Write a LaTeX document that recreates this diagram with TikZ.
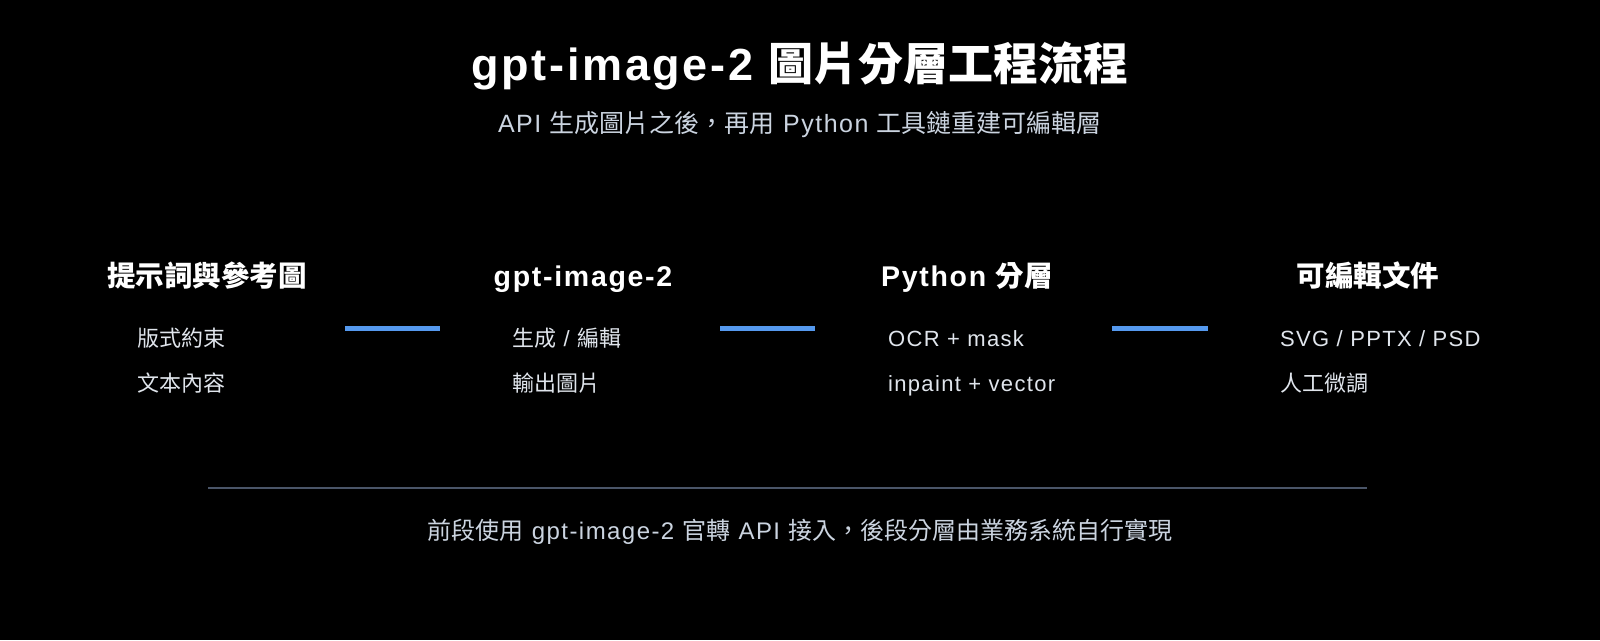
\documentclass[tikz,border=0pt]{standalone}
\usepackage{fontspec}
\setmainfont{Liberation Sans}[LetterSpace=6]
\newfontfamily\cjk{Noto Sans CJK TC}
\definecolor{linkblue}{RGB}{85,153,238}
\definecolor{rulegray}{RGB}{74,85,104}
\definecolor{subgray}{RGB}{203,212,224}
\definecolor{itemgray}{RGB}{224,229,236}

\begin{document}
\begin{tikzpicture}[x=1pt,y=-1pt]
    \tikzstyle{title} = [inner sep=0pt, anchor=base, text=white, font=\fontsize{45}{45}\selectfont\bfseries];
    \tikzstyle{subtitle} = [inner sep=0pt, anchor=base, text=subgray, font=\fontsize{25}{25}\selectfont];
    \tikzstyle{heading} = [inner sep=0pt, anchor=base, text=white, font=\fontsize{28.5}{28.5}\selectfont\bfseries];
    \tikzstyle{item} = [inner sep=0pt, anchor=base west, text=itemgray, font=\fontsize{22}{22}\selectfont];
    \tikzstyle{link} = [linkblue, line width=5pt];
    \tikzstyle{rule} = [rulegray, line width=2.5pt];

    \fill[black] (0,0) rectangle (1600,640);

    \node[title] (T) at (800,80) {gpt-image-2 {\cjk 圖片分層工程流程}};
    \node[subtitle] (S) at (800,132) {API {\cjk 生成圖片之後，再用} Python {\cjk 工具鏈重建可編輯層}};

    \foreach \i/\x/\t in {1/207/{\cjk 提示詞與參考圖}, 2/583/{gpt-image-2},
                          3/967/{Python {\cjk 分層}}, 4/1368/{\cjk 可編輯文件}}
        \node[heading] (H-\i) at (\x,286) {\t};

    \foreach \i/\x/\a/\b in {1/137/{\cjk 版式約束}/{\cjk 文本內容},
                             2/512/{{\cjk 生成} / {\cjk 編輯}}/{\cjk 輸出圖片},
                             3/888/{OCR + mask}/{inpaint + vector},
                             4/1280/{SVG / PPTX / PSD}/{\cjk 人工微調}}
    {
        \node[item] (A-\i) at (\x,346) {\a};
        \node[item] (B-\i) at (\x,391) {\b};
    }

    \foreach \i/\l/\r in {1/345/440, 2/720/815, 3/1112/1208}
    {
        \coordinate (L-\i) at (\l,328);
        \coordinate (R-\i) at (\r,328);
        \draw[link] (L-\i) -- (R-\i);
    }

    \coordinate (RL) at (208,488);
    \coordinate (RR) at (1367,488);
    \draw[rule] (RL) -- (RR);

    \node[subtitle, font=\fontsize{24}{24}\selectfont] (F) at (800,539) {{\cjk 前段使用} gpt-image-2 {\cjk 官轉} API {\cjk 接入，後段分層由業務系統自行實現}};

\end{tikzpicture}
\end{document}
